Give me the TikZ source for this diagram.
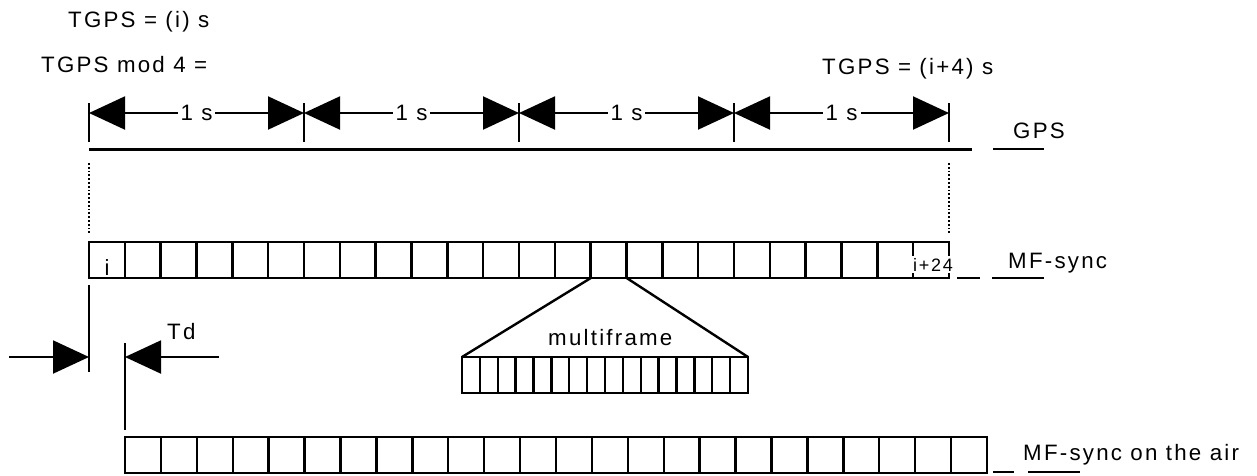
\documentclass[tikz,border=0pt]{standalone}
\usepackage{fontspec}
\setmainfont{Liberation Sans}[LetterSpace=10]
\usetikzlibrary{arrows.meta}
\begin{document}
\begin{tikzpicture}[x=1pt,y=-1pt,
  lbl/.style={font=\fontsize{22.3}{26}\selectfont, inner sep=0pt, anchor=base west},
  small/.style={font=\fontsize{18}{20}\selectfont, inner sep=1pt, fill=white},
  cell/.style={line width=2.4pt},
  thin/.style={line width=2pt},
  bigtip/.tip={Triangle[length=36pt,width=33pt]},
  dimline/.style={thin, bigtip-bigtip},
  tdarrow/.style={thin, -bigtip},
  dotline/.style={line width=1.8pt, dotted}]
\useasboundingbox (0,0) rectangle (1257,475);

% top labels
\node[lbl] (tgpsi) at (68,27) {TGPS = (i) s};
\node[lbl] (tgpsmod) at (41,72) {TGPS mod 4 =};
\node[lbl] (tgpsi4) at (822,74) {TGPS = (i+4) s};

% GPS line
\coordinate (gpsL) at (89,149);
\coordinate (gpsR) at (972,149);
\draw[line width=3pt] (gpsL) -- (gpsR);
\coordinate (gpsU1) at (993,149);
\coordinate (gpsU2) at (1044,149);
\draw[cell] (gpsU1) -- (gpsU2);
\node[lbl] (gpslbl) at (1013,138) {GPS};

% ticks and 1 s dimension arrows
\foreach \i in {0,...,4}{
  \coordinate (tt\i) at ({89+\i*215},103);
  \coordinate (tb\i) at ({89+\i*215},142);
  \coordinate (ta\i) at ({89+\i*215},113);
  \draw[thin] (tt\i) -- (tb\i);
}
\foreach \i/\j in {0/1,1/2,2/3,3/4}{
  \draw[dimline] (ta\i) -- node[fill=white, inner sep=3pt, font=\fontsize{22.3}{26}\selectfont] (one\i) {1 s} (ta\j);
}

% dotted alignment lines
\coordinate (dl1) at (89,163); \coordinate (dl2) at (89,233);
\coordinate (dr1) at (949,163); \coordinate (dr2) at (949,233);
\draw[dotline] (dl1) -- (dl2);
\draw[dotline] (dr1) -- (dr2);

% MF-sync row
\coordinate (mfA) at (89,242);
\coordinate (mfB) at (949,278);
\draw[cell] (mfA) rectangle (mfB);
\foreach \k in {1,...,23}{
  \draw[cell] ({89+\k*35.833},242) -- ({89+\k*35.833},278);
}
\node[small, font=\fontsize{22}{24}\selectfont, inner sep=2pt, anchor=base] (ilbl) at (107,275) {i};
\node[small, inner sep=1.5pt, anchor=base] (i24) at (933,271) {i+24};
\draw[cell] (949,242) -- (949,247);
\draw[cell] (914,278) -- (949,278);
\coordinate (mfd1) at (957,278); \coordinate (mfd2) at (980,278);
\draw[cell] (mfd1) -- (mfd2);
\coordinate (mfu1) at (992,278); \coordinate (mfu2) at (1044,278);
\draw[cell] (mfu1) -- (mfu2);
\node[lbl] (mflbl) at (1008,268) {MF-sync};

% multiframe expansion
\coordinate (exL) at (590.83,278);
\coordinate (exR) at (626.67,278);
\coordinate (mbA) at (462,357);
\coordinate (mbB) at (748,393);
\coordinate (mbTR) at (748,357);
\draw[cell] (exL) -- (mbA);
\draw[cell] (exR) -- (mbTR);
\draw[cell] (mbA) rectangle (mbB);
\foreach \k in {1,...,15}{
  \draw[cell] ({462+\k*17.875},357) -- ({462+\k*17.875},393);
}
\node[lbl] (mflabel) at (548,345) {multiframe};

% Td
\coordinate (tdv1) at (89,285); \coordinate (tdv2) at (89,372);
\coordinate (tdw1) at (125,343); \coordinate (tdw2) at (125,430);
\draw[thin] (tdv1) -- (tdv2);
\draw[thin] (tdw1) -- (tdw2);
\coordinate (tdaL) at (9,357); \coordinate (tdaLt) at (89,357);
\coordinate (tdaR) at (219,357); \coordinate (tdaRt) at (125,357);
\draw[tdarrow] (tdaL) -- (tdaLt);
\draw[tdarrow] (tdaR) -- (tdaRt);
\node[lbl] (tdlbl) at (167,339) {Td};

% MF-sync on the air row
\coordinate (airA) at (125,437);
\coordinate (airB) at (987,473);
\draw[cell] (airA) rectangle (airB);
\foreach \k in {1,...,23}{
  \draw[cell] ({125+\k*35.917},437) -- ({125+\k*35.917},473);
}
\coordinate (aird1) at (993,472); \coordinate (aird2) at (1014,472);
\draw[cell] (aird1) -- (aird2);
\coordinate (airu1) at (1028,472); \coordinate (airu2) at (1080,472);
\draw[cell] (airu1) -- (airu2);
\node[lbl] (airlbl) at (1023,460) {MF-sync on the air};
\end{tikzpicture}
\end{document}
